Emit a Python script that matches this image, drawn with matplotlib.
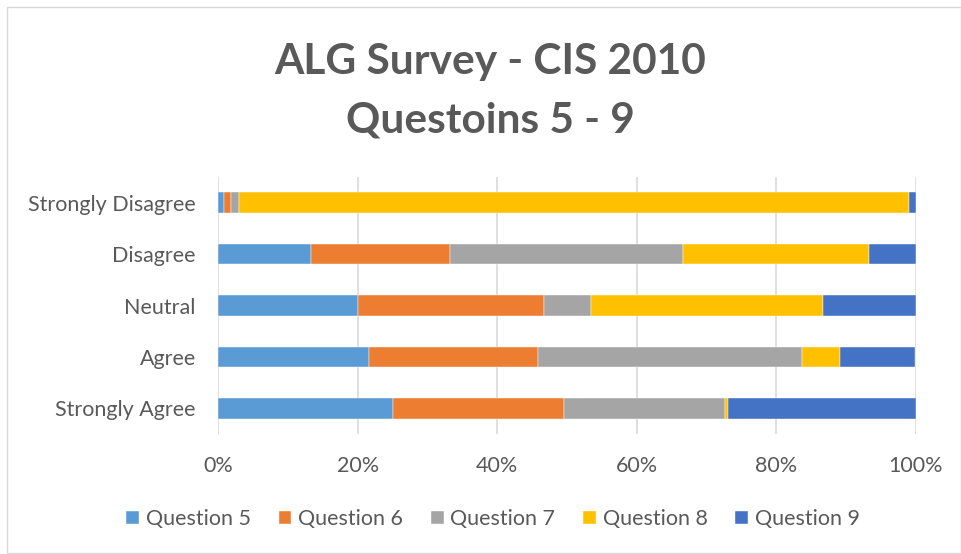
import matplotlib.pyplot as plt
import numpy as np
from matplotlib.patches import Rectangle

# categories listed bottom to top
categories = ["Strongly Agree", "Agree", "Neutral", "Disagree", "Strongly Disagree"]
series_names = ["Question 5", "Question 6", "Question 7", "Question 8", "Question 9"]

# percent share of each response, same order as categories
q5 = [25.1, 21.6, 20.0, 13.3, 0.9]
q6 = [24.4, 24.3, 26.7, 20.0, 1.0]
q7 = [23.2, 37.8, 6.7, 33.3, 1.1]
q8 = [0.3, 5.4, 33.3, 26.7, 96.0]
q9 = [27.0, 10.8, 13.3, 6.7, 1.0]

x_ticks = [0, 20, 40, 60, 80, 100]
x_tick_labels = ["0%", "20%", "40%", "60%", "80%", "100%"]

colors = ["#5B9BD5", "#ED7D31", "#A5A5A5", "#FFC000", "#4472C4"]
text_color = "#595959"
font = "Lato"

fig = plt.figure(figsize=(9.62, 5.54), dpi=100)
fig.patch.set_facecolor("white")

# chart border
fig.patches.append(Rectangle((7 / 962, 1 / 554), 954 / 962, 546 / 554,
                             transform=fig.transFigure, fill=False,
                             edgecolor="#D9D9D9", linewidth=1.0))

ax = fig.add_axes([218 / 962, 1 - 434 / 554, 698 / 962, 257 / 554])

y = np.arange(len(categories))
left = np.zeros(len(categories))
for name, vals, col in zip(series_names, [q5, q6, q7, q8, q9], colors):
    vals = np.array(vals)
    ax.barh(y, vals, left=left, height=0.4, color=col, label=name,
            edgecolor="white", linewidth=0.3, zorder=2)
    left += vals

ax.set_xlim(0, 100)
ax.set_ylim(-0.5, len(categories) - 0.5)
ax.set_xticks(x_ticks)
ax.set_xticklabels(x_tick_labels)
ax.set_yticks(y)
ax.set_yticklabels(categories)
ax.tick_params(axis="both", length=0, labelsize=15.5, colors=text_color)
ax.tick_params(axis="y", pad=16)
ax.tick_params(axis="x", pad=16)
for lbl in ax.get_xticklabels() + ax.get_yticklabels():
    lbl.set_fontfamily(font)
ax.grid(axis="x", color="#D9D9D9", linewidth=1.2, zorder=0)
ax.set_axisbelow(True)
for s in ax.spines.values():
    s.set_visible(False)

fig.text(490 / 962, 1 - 62 / 554, "ALG Survey - CIS 2010", ha="center", va="center",
         fontsize=30.5, fontweight="bold", color=text_color, fontfamily=font)
fig.text(490 / 962, 1 - 120 / 554, "Questoins 5 - 9", ha="center", va="center",
         fontsize=30.5, fontweight="bold", color=text_color, fontfamily=font)

leg = fig.legend(loc="center", bbox_to_anchor=(493 / 962, 1 - 519 / 554), ncol=5,
                 frameon=False, handlelength=0.6, handleheight=0.6, handletextpad=0.3,
                 columnspacing=1.3, prop={"family": font, "size": 15.5})
for t in leg.get_texts():
    t.set_color(text_color)

fig.savefig("out.png", dpi=100)
